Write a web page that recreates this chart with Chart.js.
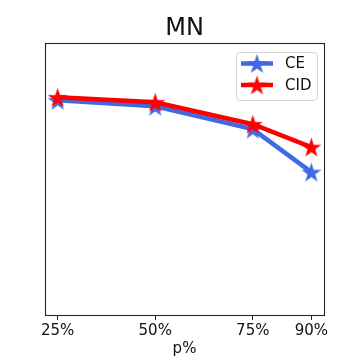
<!DOCTYPE html>
<html>
<head>
<meta charset="utf-8">
<script src="https://cdn.jsdelivr.net/npm/chart.js@4/dist/chart.umd.min.js"></script>
<style>
  html, body { margin: 0; padding: 0; background: #fff; }
  #wrap { width: 360px; height: 360px; }
</style>
</head>
<body>
<div id="wrap"><canvas id="mnChart" width="360" height="360"></canvas></div>
<script>
// data (y axis has no ticks, arbitrary units)
const pctValues = [25, 50, 75, 90];
const pctLabels = ['25%', '50%', '75%', '90%'];
const ceValues = [79.0, 76.8, 68.4, 52.6];
const cidValues = [80.1, 78.3, 70.2, 61.8];

const BLUE = '#4169e1';
const RED = '#ff0000';
const FONT = "'DejaVu Sans', sans-serif";

// filled five point star, used as point image
const makeStar = (color, r) => {
    const c = document.createElement('canvas');
    const s = Math.ceil(r * 2 + 2);
    c.width = s;
    c.height = s;
    const g = c.getContext('2d');
    const cx = s / 2, cy = s / 2 + r * 0.1;
    g.beginPath();
    for (let i = 0; i < 10; i++) {
        const rad = i % 2 === 0 ? r : r * 0.382;
        const a = -Math.PI / 2 + i * Math.PI / 5;
        const x = cx + rad * Math.cos(a);
        const y = cy + rad * Math.sin(a);
        if (i === 0) g.moveTo(x, y); else g.lineTo(x, y);
    }
    g.closePath();
    g.fillStyle = color;
    g.fill();
    return c;
};

const blueStar = makeStar(BLUE, 10.5);
const redStar = makeStar(RED, 10.5);

const toPoints = (vals) => vals.map((v, i) => ({ x: pctValues[i], y: v }));

// frame around plot area + matplotlib-like legend box
const framePlugin = {
    id: 'frame',
    afterDraw(chart) {
        const { ctx, chartArea: a } = chart;
        ctx.save();
        ctx.strokeStyle = '#262626';
        ctx.lineWidth = 1.1;
        ctx.strokeRect(Math.round(a.left) + 0.5, Math.round(a.top) + 0.5,
            Math.round(a.right - a.left), Math.round(a.bottom - a.top));

        // legend
        const bx = 236.5, by = 52.5, bw = 81, bh = 48, rr = 4;
        ctx.beginPath();
        ctx.roundRect(bx, by, bw, bh, rr);
        ctx.fillStyle = 'rgba(255,255,255,0.8)';
        ctx.fill();
        ctx.strokeStyle = '#d6d6d6';
        ctx.lineWidth = 1;
        ctx.stroke();

        const items = [
            { label: 'CE', color: BLUE, img: blueStar, y: 63.5 },
            { label: 'CID', color: RED, img: redStar, y: 85 }
        ];
        items.forEach(it => {
            ctx.beginPath();
            ctx.moveTo(241, it.y);
            ctx.lineTo(273, it.y);
            ctx.strokeStyle = it.color;
            ctx.lineWidth = 4.5;
            ctx.stroke();
            ctx.drawImage(it.img, 257 - it.img.width / 2, it.y - it.img.height / 2);
            ctx.fillStyle = '#111';
            ctx.font = '15px ' + FONT;
            ctx.textBaseline = 'middle';
            ctx.textAlign = 'left';
            ctx.fillText(it.label, 285, it.y + 1);
        });
        ctx.restore();
    }
};

new Chart(document.getElementById('mnChart'), {
    type: 'line',
    data: {
        datasets: [
            {
                label: 'CE',
                data: toPoints(ceValues),
                borderColor: BLUE,
                backgroundColor: BLUE,
                borderWidth: 4.5,
                pointStyle: blueStar,
                pointRadius: 10,
                tension: 0,
                order: 2
            },
            {
                label: 'CID',
                data: toPoints(cidValues),
                borderColor: RED,
                backgroundColor: RED,
                borderWidth: 4.5,
                pointStyle: redStar,
                pointRadius: 10,
                tension: 0,
                order: 1
            }
        ]
    },
    options: {
        responsive: false,
        animation: false,
        layout: { padding: { left: 45, right: 36, top: 0, bottom: 0 } },
        plugins: {
            legend: { display: false },
            tooltip: { enabled: false },
            title: {
                display: true,
                text: 'MN',
                color: '#111',
                font: { family: FONT, size: 24, weight: 'normal' },
                padding: { top: 14, bottom: 0.5 }
            }
        },
        scales: {
            x: {
                type: 'linear',
                min: 21.75,
                max: 93.25,
                afterBuildTicks: (scale) => {
                    scale.ticks = pctValues.map(v => ({ value: v }));
                },
                afterFit: (scale) => { scale.height = 45; },
                ticks: {
                    color: '#111',
                    font: { family: FONT, size: 15 },
                    padding: 2,
                    maxRotation: 0,
                    autoSkip: false,
                    callback: (v) => pctLabels[pctValues.indexOf(v)]
                },
                grid: {
                    drawOnChartArea: false,
                    drawTicks: true,
                    tickLength: 5,
                    tickColor: '#262626',
                    tickWidth: 1
                },
                border: { display: false },
                title: {
                    display: true,
                    text: 'p%',
                    color: '#111',
                    font: { family: FONT, size: 15 },
                    padding: { top: 0, bottom: 2 }
                }
            },
            y: {
                display: false,
                min: 0,
                max: 100
            }
        }
    },
    plugins: [framePlugin]
});
</script>
</body>
</html>
